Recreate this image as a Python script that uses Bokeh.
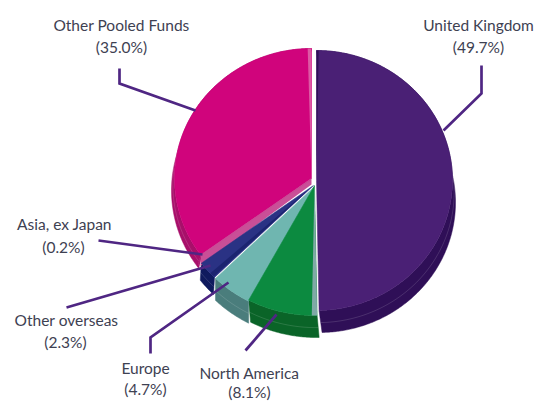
import numpy as np
from bokeh.embed import file_html
from bokeh.models import Range1d
from bokeh.plotting import figure
from bokeh.resources import INLINE
from bokeh.core.properties import value

categories = ["United Kingdom", "North America", "Europe", "Other overseas", "Asia, ex Japan", "Other Pooled Funds"]
shares = [49.7, 8.1, 4.7, 2.3, 0.2, 35.0]
share_labels = ["(49.7%)", "(8.1%)", "(4.7%)", "(2.3%)", "(0.2%)", "(35.0%)"]

top_colors = ["#4a2075", "#0c8a40", "#6fb6b0", "#2a3284", "#c94f97", "#d0047c"]
wall_colors = ["#2f0f57", "#0a6428", "#4a7d7c", "#0f1a5e", "#a80f6a", "#a80f6a"]
centers = [(316, 180), (314, 185), (314, 186), (313, 185), (311, 178), (311, 178)]
radii = [(136, 130), (140, 130), (140, 130), (140, 130), (137, 130), (137, 130)]
shifts = [(3, 22), (2, 22), (0, 22), (-1, 17), (-3, 12), (-3, 12)]
label_xy = [(478, 24), (249, 372), (145, 367), (66, 319), (64, 223), (121, 24)]
share_xy = [(478, 46), (249, 391), (145, 388), (65, 341), (63, 246), (121, 46)]
leaders = [
    ([481, 481, 443], [65, 93, 130]),
    ([245, 276], [350, 314]),
    ([150, 150, 228], [353, 337, 282]),
    ([66, 210], [307, 265]),
    ([98, 202], [240, 254]),
    ([119, 119, 195], [68, 83, 110]),
]

p = figure(width=535, height=401, output_backend="svg", toolbar_location=None,
           x_range=Range1d(0, 535), y_range=Range1d(401, 0), min_border=0)
p.axis.visible = False
p.grid.visible = False
p.outline_line_color = None

edges = np.cumsum([0] + shares) * 3.6


def arc(i, a0, a1):
    t = np.radians(np.linspace(a0, a1, max(int(abs(a1 - a0) * 2), 2)))
    cx, cy = centers[i]
    rx, ry = radii[i]
    return cx + rx * np.sin(t), cy - ry * np.cos(t)


# side walls
for i in range(len(shares)):
    x, y = arc(i, edges[i], edges[i + 1])
    dx, dy = shifts[i]
    p.patch(np.r_[x, x[::-1] + dx], np.r_[y, y[::-1] + dy], fill_color=wall_colors[i], line_color=wall_colors[i], line_width=0.5)
    p.line(x + dx * 0.55, y + dy * 0.55, line_color="#ffffff", line_alpha=0.2, line_width=0.7)

# radial wall below the large magenta slice
x, y = arc(5, edges[5], edges[5] + 0.5)
cx, cy = centers[5]
p.patch([cx, x[0], x[0], cx], [cy, y[0], y[0] + 11, cy + 6], fill_color="#c94f97", line_color=None)

# top faces
for i in [5, 4, 3, 2, 1, 0]:
    x, y = arc(i, edges[i], edges[i + 1])
    cx, cy = centers[i]
    p.patch(np.r_[cx, x], np.r_[cy, y], fill_color=top_colors[i], line_color=top_colors[i], line_width=0.5)

# lighter facets along the slice edges (start offset and width in degrees)
facets = [(0, 0.0, 0.9, "#2f0f57"), (1, 0.0, 2.2, "#7fa9a6"), (3, 0.5, 2.0, "#1c2470"),
          (5, 124.4, 1.4, "#dc5aa4")]
for i, a0, width, col in facets:
    a = edges[i] + a0
    x, y = arc(i, a, a + width)
    cx, cy = centers[i]
    p.patch(np.r_[cx, x], np.r_[cy, y], fill_color=col, line_color=None)

for xs, ys in leaders:
    p.line(xs, ys, line_color="#4f2683", line_width=2.7, line_join="miter")

lx, ly = zip(*label_xy)
sx, sy = zip(*share_xy)
text_style = dict(text_font=value("Lato"), text_font_size="15.5px", text_color="#3e4152",
                  text_align="center", text_baseline="middle")
p.text(list(lx), list(ly), text=categories, **text_style)
p.text(list(sx), list(sy), text=share_labels, **text_style)

open("out.html", "w").write(file_html(p, INLINE))
